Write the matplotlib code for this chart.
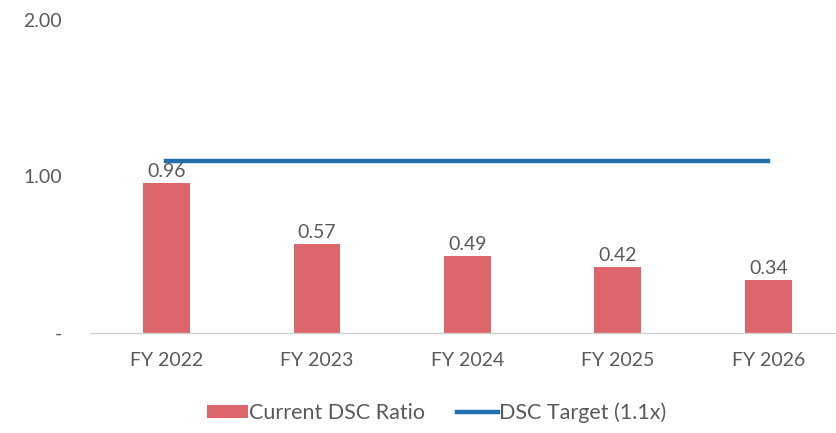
import matplotlib.pyplot as plt
from matplotlib.ticker import FixedLocator, FixedFormatter

years = ["FY 2022", "FY 2023", "FY 2024", "FY 2025", "FY 2026"]
dsc_ratio = [0.96, 0.57, 0.49, 0.42, 0.34]
dsc_target = [1.1, 1.1, 1.1, 1.1, 1.1]
y_ticks = [0, 1, 2]
y_labels = ["-", "1.00", "2.00"]

BAR_RED = "#dc666a"
LINE_BLUE = "#2170ad"
TEXT = "#5a5a5a"

plt.rcParams['font.family'] = ['Lato', 'DejaVu Sans']

fig = plt.figure(figsize=(8.36, 4.33), dpi=100)
ax = fig.add_axes([0.109, 0.231, 0.891, 0.723])

x = range(len(years))
bars = ax.bar(x, dsc_ratio, width=0.31, color=BAR_RED, label="Current DSC Ratio", zorder=2)
line, = ax.plot(x, dsc_target, color=LINE_BLUE, lw=3.2, label="DSC Target (1.1x)", zorder=3)

for xi, v in zip(x, dsc_ratio):
    ax.text(xi, v + 0.02, f"{v:.2f}", ha='center', va='bottom', fontsize=14, color=TEXT)

ax.set_xlim(-0.5, 4.45)
ax.set_ylim(0, 2)
ax.yaxis.set_major_locator(FixedLocator(y_ticks))
ax.yaxis.set_major_formatter(FixedFormatter(y_labels))
ax.set_xticks(list(x))
ax.set_xticklabels(years)
ax.tick_params(axis='both', length=0, labelsize=14, colors=TEXT)
ax.tick_params(axis='x', pad=14)
ax.tick_params(axis='y', pad=21)

for s in ['top', 'right', 'left']:
    ax.spines[s].set_visible(False)
ax.spines['bottom'].set_color('#d0d0d0')
ax.spines['bottom'].set_linewidth(1)

ax.legend(handles=[bars, line], loc='center', bbox_to_anchor=(0.464, -0.255), ncol=2,
          frameon=False, fontsize=15.5, labelcolor=TEXT, handlelength=1.9,
          handleheight=0.6, handletextpad=0.05, columnspacing=1.5)

fig.savefig("out.png", dpi=100)
